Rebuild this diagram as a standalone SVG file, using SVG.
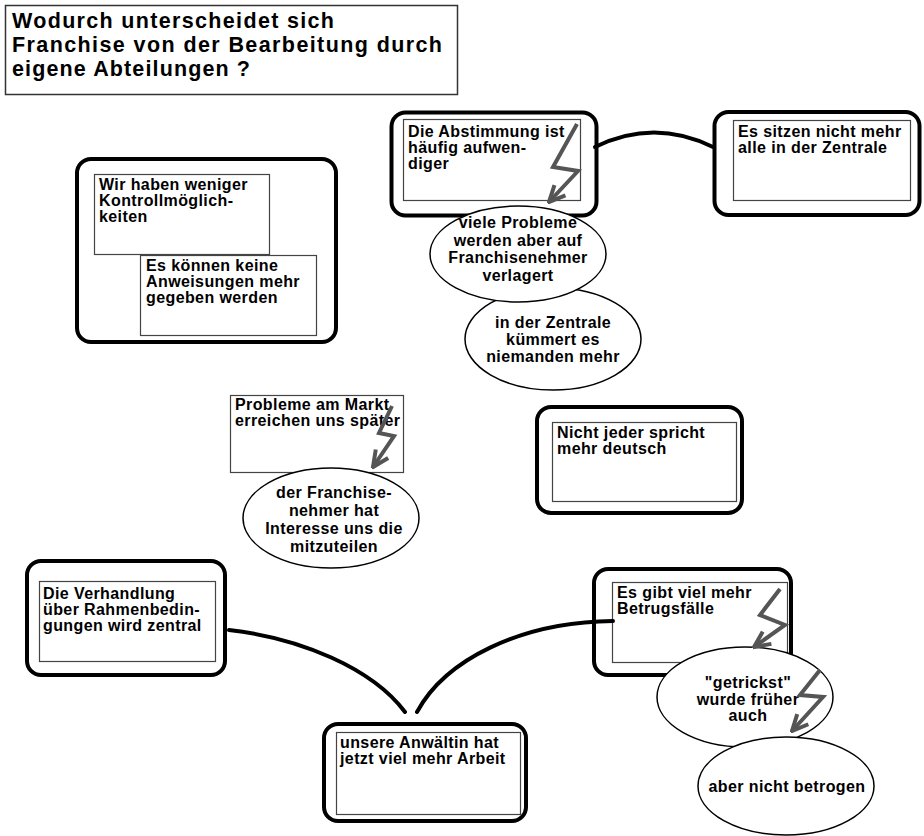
<svg xmlns="http://www.w3.org/2000/svg" width="924" height="836" viewBox="0 0 924 836">
<defs>
<style>
text{font-family:"Liberation Sans",Arial,sans-serif;font-weight:bold;font-size:16px;letter-spacing:0.4px;fill:#000}
.title{font-size:21.5px;letter-spacing:0}
.outer{fill:#fff;stroke:#000;stroke-width:4}
.inner{fill:#fff;stroke:#444;stroke-width:1.2}
.plain{fill:#fff;stroke:#444;stroke-width:1.2}
.ell{fill:#fff;stroke:#000;stroke-width:1.5}
.c{text-anchor:middle}
.conn{fill:none;stroke:#000;stroke-width:4;stroke-linecap:round}
.bolt{fill:none;stroke:#555;stroke-width:4;stroke-linejoin:miter;marker-end:url(#vh)}
</style>
<marker id="vh" markerUnits="userSpaceOnUse" viewBox="0 0 20 20" markerWidth="20" markerHeight="20" refX="18" refY="10" orient="auto">
<path d="M2,2.5 L18,10 L2,17.5" fill="none" stroke="#555" stroke-width="4"/>
</marker>
</defs>
<rect width="924" height="836" fill="#fff"/>

<g id="title">
<rect x="5.5" y="5.5" width="452" height="89" fill="#fff" stroke="#333" stroke-width="1.5"/>
<text class="title" x="12" y="28" textLength="322" lengthAdjust="spacing">Wodurch unterscheidet sich</text>
<text class="title" x="12" y="52" textLength="430" lengthAdjust="spacing">Franchise von der Bearbeitung durch</text>
<text class="title" x="12" y="76" textLength="238" lengthAdjust="spacing">eigene Abteilungen ?</text>
</g>

<g id="n-kontrolle">
<rect class="outer" x="77" y="159" width="259" height="183" rx="14"/>
<rect class="inner" x="94.5" y="174.5" width="175" height="80"/>
<text x="99" y="190">Wir haben weniger</text>
<text x="99" y="206">Kontrollmöglich-</text>
<text x="99" y="222">keiten</text>
<rect class="inner" x="140.5" y="255.5" width="176" height="80"/>
<text x="146" y="271">Es können keine</text>
<text x="146" y="287">Anweisungen mehr</text>
<text x="146" y="303">gegeben werden</text>
</g>

<g id="n-abstimmung">
<rect class="outer" x="391.5" y="112.5" width="205" height="103" rx="14"/>
<rect class="inner" x="403.5" y="119.5" width="177" height="81"/>
<text x="408" y="137">Die Abstimmung ist</text>
<text x="408" y="153">häufig aufwen-</text>
<text x="408" y="169">diger</text>
</g>

<g id="n-zentrale-sitzen">
<rect class="outer" x="714.5" y="112" width="205" height="103" rx="14"/>
<rect class="inner" x="733.5" y="120.5" width="177" height="80"/>
<text x="738" y="137">Es sitzen nicht mehr</text>
<text x="738" y="153">alle in der Zentrale</text>
</g>

<g id="e-zentrale-kuemmert">
<ellipse class="ell" cx="553" cy="339" rx="88" ry="51"/>
<text class="c" x="553" y="328">in der Zentrale</text>
<text class="c" x="553" y="345">kümmert es</text>
<text class="c" x="553" y="362">niemanden mehr</text>
</g>

<g id="e-probleme-verlagert">
<ellipse class="ell" cx="518" cy="254" rx="88" ry="48"/>
<text class="c" x="518" y="228">viele Probleme</text>
<text class="c" x="518" y="245.5">werden aber auf</text>
<text class="c" x="518" y="263">Franchisenehmer</text>
<text class="c" x="518" y="280.5">verlagert</text>
</g>

<g id="n-markt">
<rect class="plain" x="230.5" y="395.5" width="173" height="77"/>
<text x="235" y="410">Probleme am Markt</text>
<text x="235" y="426">erreichen uns später</text>
</g>

<g id="e-franchisenehmer">
<ellipse class="ell" cx="331" cy="518" rx="88" ry="50"/>
<text class="c" x="334" y="498">der Franchise-</text>
<text class="c" x="334" y="516">nehmer hat</text>
<text class="c" x="334" y="534">Interesse uns die</text>
<text class="c" x="334" y="552">mitzuteilen</text>
</g>

<g id="n-deutsch">
<rect class="outer" x="537" y="407" width="205" height="106" rx="14"/>
<rect class="inner" x="552.5" y="422.5" width="184" height="79"/>
<text x="557" y="438">Nicht jeder spricht</text>
<text x="557" y="454">mehr deutsch</text>
</g>

<g id="n-verhandlung">
<rect class="outer" x="27" y="561" width="198" height="114" rx="14"/>
<rect class="inner" x="39.5" y="581.5" width="176" height="80"/>
<text x="43" y="599">Die Verhandlung</text>
<text x="43" y="615">über Rahmenbedin-</text>
<text x="43" y="631">gungen wird zentral</text>
</g>

<g id="n-betrug">
<rect class="outer" x="594" y="569" width="197" height="106" rx="14"/>
<rect class="inner" x="612.5" y="582.5" width="175" height="80"/>
<text x="617" y="598">Es gibt viel mehr</text>
<text x="617" y="614">Betrugsfälle</text>
</g>

<g id="e-getrickst">
<ellipse class="ell" cx="745" cy="697" rx="88" ry="50"/>
<text class="c" x="748" y="688">"getrickst"</text>
<text class="c" x="748" y="705">wurde früher</text>
<text class="c" x="748" y="721">auch</text>
</g>

<g id="e-nicht-betrogen">
<ellipse class="ell" cx="786" cy="786" rx="88" ry="49"/>
<text class="c" x="787" y="792">aber nicht betrogen</text>
</g>

<g id="n-anwaeltin">
<rect class="outer" x="324" y="724" width="202" height="97" rx="14"/>
<rect class="inner" x="336.5" y="732.5" width="184" height="82"/>
<text x="340" y="748">unsere Anwältin hat</text>
<text x="340" y="764">jetzt viel mehr Arbeit</text>
</g>

<g id="connectors">
<path class="conn" d="M595,147 Q654,118 713,147"/>
<path class="conn" d="M229,630 C300,638 372,668 405,712"/>
<path class="conn" d="M417,712 C445,660 520,622 613,621"/>
<path class="bolt" d="M577,124 L553,167 L578,171 L549,202"/>
<path class="bolt" d="M392,406 L379,433 L394,436 L373,467"/>
<path class="bolt" d="M780,589 L760,615 L785,625 L754,647"/>
<path class="bolt" d="M820,670 L800,695 L823,697 L792,731"/>
</g>
</svg>
